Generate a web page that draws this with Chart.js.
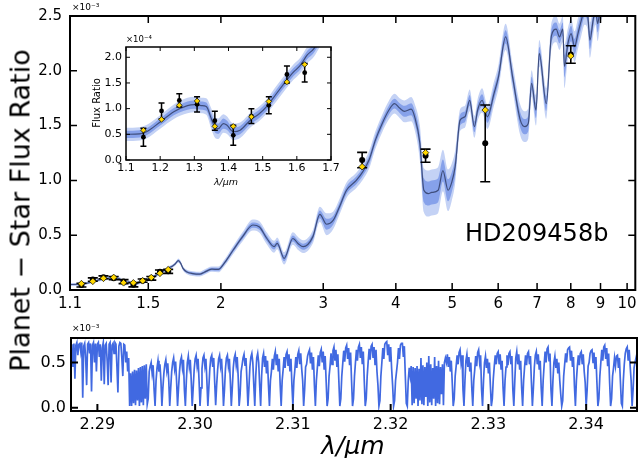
<!DOCTYPE html>
<html><head><meta charset="utf-8">
<script src="https://cdn.jsdelivr.net/npm/chart.js@4.4.1/dist/chart.umd.min.js"></script>
<style>
body{margin:0;background:#fff;width:640px;height:458px;overflow:hidden;position:relative;font-family:"DejaVu Sans",sans-serif;}
canvas{position:absolute;}
.t{position:absolute;white-space:nowrap;color:#000;line-height:1;}
</style></head><body>
<canvas id="main" width="640" height="320" style="left:0;top:0"></canvas>
<canvas id="inset" width="260" height="165" style="left:80px;top:30px"></canvas>
<canvas id="hires" width="640" height="138" style="left:0;top:320px"></canvas>
<div class="t" style="left:72px;top:3px;font-size:9px">×10⁻³</div>
<div class="t" style="left:126px;top:35px;font-size:8.5px">×10⁻⁴</div>
<div class="t" style="left:72px;top:324px;font-size:9px">×10⁻³</div>
<div class="t" style="left:47px;top:98px;width:100px;text-align:center;font-size:10px;transform:rotate(-90deg);transform-origin:50% 50%">Flux Ratio</div>
<div class="t" style="left:196px;top:177px;width:60px;text-align:center;font-size:9.5px;font-style:italic">λ/μm</div>
<div class="t" style="left:465px;top:221px;font-size:24px">HD209458b</div>
<div class="t" style="left:-180px;top:197px;width:400px;text-align:center;font-size:27px;transform:rotate(-90deg);transform-origin:50% 50%">Planet − Star Flux Ratio</div>
<div class="t" style="left:253px;top:433px;width:200px;text-align:center;font-size:25px;font-style:italic">λ/μm</div>
<script>
// ---------------- data ----------------
const modelWave = [1.10,1.14,1.16,1.20,1.24,1.28,1.30,1.32,1.335,1.35,1.36,1.37,1.385,1.395,1.414,1.434,1.463,1.49,1.51,1.54,1.57,1.59,1.61,1.63,1.65,1.67,1.69,1.705,1.72,1.745,1.79,1.84,1.87,1.93,1.98,2.03,2.10,2.18,2.27,2.33,2.40,2.47,2.50,2.57,2.66,2.72,2.77,2.88,2.96,3.04,3.12,3.20,3.29,3.42,3.51,3.60,3.69,3.79,3.89,3.98,4.06,4.14,4.25,4.31,4.40,4.47,4.55,4.61,4.73,4.82,4.92,4.99,5.06,5.16,5.26,5.36,5.46,5.53,5.63,5.75,5.90,6.01,6.18,6.35,6.55,6.67,6.76,6.85,6.97,7.06,7.26,7.41,7.55,7.65,7.75,7.80,7.91,8.01,8.12,8.23,8.34,8.45,8.55,8.63,8.74,8.82,8.90,9.00,9.30,9.70,10.33];
const modelFlux = [0.050,0.051,0.055,0.074,0.094,0.106,0.108,0.106,0.104,0.080,0.064,0.061,0.071,0.068,0.055,0.058,0.077,0.090,0.103,0.129,0.155,0.171,0.184,0.204,0.217,0.240,0.268,0.245,0.200,0.167,0.150,0.145,0.160,0.190,0.188,0.250,0.365,0.487,0.593,0.575,0.470,0.395,0.426,0.289,0.470,0.420,0.395,0.487,0.690,0.600,0.635,0.760,0.910,1.000,1.080,1.190,1.370,1.520,1.640,1.700,1.660,1.630,1.650,1.580,1.340,0.910,0.880,0.890,0.910,1.090,0.910,0.980,1.125,1.550,1.580,1.730,1.490,1.640,1.730,1.580,1.790,1.950,2.310,1.950,1.550,1.490,1.520,1.885,1.640,2.160,1.700,2.320,2.380,2.310,2.380,2.040,2.250,2.340,2.220,2.340,2.460,2.560,2.520,2.280,2.460,2.560,2.430,2.600,2.700,2.800,2.900];
const modelErr1 = [0.007,0.007,0.007,0.007,0.007,0.008,0.008,0.008,0.008,0.010,0.010,0.010,0.010,0.009,0.008,0.008,0.008,0.008,0.008,0.008,0.008,0.008,0.008,0.008,0.008,0.008,
0.010,0.010,0.010,0.010,0.011,0.011,0.012,0.012,0.013,0.015,0.018,0.021,0.024,0.025,0.026,0.026,0.026,0.027,0.027,0.028,0.028,0.030,0.035,0.050,0.040,0.035,0.035,0.035,0.038,0.040,0.040,0.040,0.042,0.045,0.045,0.050,0.055,0.060,0.080,
0.110,0.110,0.110,0.110,0.100,0.100,0.090,0.080,0.050,0.050,0.050,0.050,0.050,0.055,0.055,0.055,0.055,0.060,0.060,0.070,0.070,0.070,0.060,0.070,0.060,0.070,0.060,0.060,0.060,0.060,0.100,0.070,0.070,0.070,0.070,0.070,0.070,0.070,0.080,0.070,0.070,0.080,0.080,0.080,0.080,0.080];
const modelErr2 = [0.013,0.013,0.013,0.013,0.014,0.015,0.015,0.015,0.016,0.020,0.020,0.020,0.018,0.017,0.016,0.015,0.014,0.014,0.014,0.015,0.015,0.015,0.015,0.016,0.016,0.016,
0.020,0.020,0.020,0.020,0.022,0.022,0.024,0.024,0.026,0.030,0.036,0.042,0.050,0.052,0.054,0.054,0.054,0.056,0.056,0.058,0.058,0.060,0.070,0.100,0.080,0.070,0.070,0.070,0.075,0.080,0.080,0.080,0.085,0.090,0.090,0.100,0.110,0.120,0.160,
0.200,0.210,0.210,0.210,0.190,0.190,0.170,0.150,0.100,0.100,0.100,0.100,0.100,0.110,0.110,0.110,0.110,0.120,0.120,0.140,0.140,0.140,0.120,0.140,0.120,0.140,0.120,0.120,0.120,0.120,0.200,0.140,0.140,0.140,0.140,0.140,0.140,0.140,0.160,0.140,0.140,0.160,0.160,0.160,0.160,0.160];
const obsWave = [1.151,1.204,1.256,1.308,1.360,1.414,1.467,1.518,1.571,1.623,3.5,4.5,5.7,8.0];
const obsFlux = [0.0445,0.0955,0.116,0.1083,0.0765,0.048,0.0855,0.1065,0.1665,0.170,1.186,1.2255,1.338,2.1485];
const obsErr  = [0.0175,0.0155,0.013,0.0148,0.0185,0.0195,0.0145,0.0165,0.0165,0.018,0.070,0.060,0.350,0.080];
const binnedFlux = [0.058,0.079,0.1065,0.115,0.0655,0.0655,0.084,0.114,0.152,0.186,1.125,1.253,1.642,2.135];

const mainXTicks = [1.1,1.5,2,3,4,5,6,7,8,9,10];
const mainXTickLabels = ['1.1','1.5','2','3','4','5','6','7','8','9','10'];
const mainYTicks = [0,0.5,1,1.5,2,2.5];
const mainYTickLabels = ['0.0','0.5','1.0','1.5','2.0','2.5'];
const insetXTicks = [1.1,1.2,1.3,1.4,1.5,1.6,1.7];
const insetXTickLabels = ['1.1','1.2','1.3','1.4','1.5','1.6','1.7'];
const insetYTicks = [0,0.5,1,1.5,2];
const insetYTickLabels = ['0.0','0.5','1.0','1.5','2.0'];
const hiresXTicks = [2.29,2.30,2.31,2.32,2.33,2.34];
const hiresXTickLabels = ['2.29','2.30','2.31','2.32','2.33','2.34'];
const hiresYTicks = [0,0.5];
const hiresYTickLabels = ['0.0','0.5'];

const hiresStart = 2.2873, hiresStep = 0.0001;
const hiresFlux = [
0.70,0.66,0.45,0.71,0.32,0.69,0.72,0.58,0.70,0.71,
0.62,0.72,0.11,0.68,0.71,0.55,0.25,0.70,0.72,0.60,
0.71,0.18,0.69,0.72,0.50,0.71,0.40,0.70,0.72,0.56,
0.70,0.30,0.66,0.72,0.26,0.69,0.71,0.52,0.25,0.70,
0.72,0.28,0.69,0.71,0.60,0.72,0.70,0.45,0.17,0.68,
0.72,0.71,0.55,0.35,0.70,0.69,0.50,0.62,0.40,
0.55,0.02,0.38,
0.02,0.40,0.05,0.42,0.03,0.41,0.08,0.44,0.02,0.45,0.06,0.46,0.03,0.47,0.10,0.48,0.04,
0.10,0.40,0.46,
0.50,0.38,0.47,0.20,0.02,0.30,0.44,
0.52,0.40,0.48,0.30,0.02,0.22,0.38,0.48,
0.53,0.41,0.49,0.30,0.02,0.22,0.40,0.50,
0.55,0.43,0.51,0.30,0.02,0.22,0.40,0.52,
0.56,0.44,0.53,0.20,0.02,0.30,0.50,
0.57,0.45,0.53,0.30,0.02,0.22,0.42,0.54,
0.58,0.46,0.54,0.30,0.02,0.22,0.43,0.55,
0.58,0.46,0.54,0.30,0.02,0.22,0.43,0.55,
0.58,0.45,0.55,0.28,0.03,0.25,0.42,0.54,
0.58,0.46,0.54,0.32,0.02,0.20,0.43,0.55,
0.58,0.46,0.54,0.30,0.02,0.22,0.44,0.55,
0.59,0.47,0.56,0.35,0.02,0.15,0.40,0.47,0.55,
0.59,0.47,0.55,0.30,0.02,0.22,0.45,0.56,
0.60,0.50,0.25,0.02,0.35,0.55,
0.60,0.50,0.25,0.02,0.35,0.55,
0.60,0.45,0.57,0.38,0.52,0.25,0.02,0.30,0.40,0.54,0.42,0.57,
0.62,0.47,0.59,0.40,0.54,0.25,0.02,0.30,0.42,0.56,0.44,0.59,
0.62,0.47,0.59,0.40,0.54,0.25,0.02,0.30,0.42,0.56,0.44,0.59,
0.63,0.48,0.60,0.43,0.30,0.02,0.20,0.45,0.48,0.57,0.61,
0.64,0.49,0.61,0.42,0.56,0.25,0.02,0.30,0.44,0.58,0.46,0.61,
0.645,0.50,0.62,0.42,0.57,0.30,0.02,0.10,0.35,0.46,0.60,0.48,0.63,
0.67,0.52,0.64,0.45,0.59,0.30,0.02,0.10,0.35,0.49,0.63,0.51,0.66,
0.69,0.54,0.66,0.47,0.61,0.30,0.02,0.10,0.35,0.50,0.64,0.52,0.67,
0.70,0.55,0.67,0.48,0.62,0.30,0.02,0.10,0.35,0.51,0.65,0.53,0.68,
0.70,0.55,0.67,0.48,0.64,0.40,0.25,0.02,0.08,0.35,0.50,0.66,0.54,0.70,0.72,
0.73,0.58,0.70,0.51,0.67,0.43,0.25,0.02,0.08,0.30,0.40,0.50,0.66,0.54,0.69,0.71,
0.71,0.56,0.68,0.35,0.05,0.02,0.30,0.44,0.35,0.46,
0.03,0.45,0.05,0.44,0.10,0.46,0.02,0.43,0.08,0.55,0.04,0.47,0.03,0.45,0.12,0.50,0.02,0.57,0.06,0.48,
0.03,0.44,0.10,0.56,0.02,0.46,0.05,0.52,0.04,0.45,0.15,0.48,0.03,0.50,0.55,
0.50,
0.59,0.45,0.56,0.40,0.52,0.28,0.02,0.10,0.35,0.46,0.58,0.48,0.61,
0.64,0.50,0.58,0.20,0.02,0.30,0.52,
0.59,0.45,0.56,0.40,0.50,0.22,0.02,0.30,0.42,0.57,0.46,0.61,
0.64,0.50,0.58,0.20,0.02,0.30,0.50,
0.57,0.44,0.54,0.38,0.50,0.25,0.02,0.10,0.32,0.46,0.58,0.48,0.60,
0.62,0.48,0.59,0.42,0.52,0.22,0.02,0.30,0.45,0.58,0.47,0.60,
0.62,0.48,0.57,0.20,0.02,0.30,0.55,
0.62,0.48,0.59,0.42,0.52,0.22,0.02,0.30,0.45,0.58,0.47,0.60,
0.62,0.48,0.57,0.28,0.02,0.22,0.45,0.58,
0.62,0.48,0.59,0.42,0.52,0.22,0.02,0.30,0.47,0.62,0.50,0.65,
0.67,0.52,0.60,0.20,0.02,0.30,0.50,
0.57,0.44,0.54,0.38,0.50,0.30,0.15,0.02,0.08,0.35,0.48,0.60,0.50,0.64,0.66,
0.67,0.52,0.63,0.45,0.56,0.24,0.02,0.30,0.46,0.58,0.47,0.60,
0.62,0.48,0.59,0.40,0.28,0.02,0.20,0.46,0.50,0.60,0.63,
0.64,0.50,0.61,0.43,0.56,0.28,0.02,0.10,0.35,0.50,0.64,0.52,0.67,
0.69,0.54,0.66,0.46,0.60,0.28,0.02,0.10,0.35,0.44,0.55,0.46,0.57,
0.58,0.44,0.55,0.30,0.05,0.02,0.30,0.48,0.60,0.65,
0.67,0.52,0.64,0.46,0.30,0.02,0.20,0.44,0.50,0.55,0.48
];

// ---------------- styling ----------------
Chart.defaults.font.family = '"DejaVu Sans", sans-serif';
Chart.defaults.color = '#000';
const LIGHT = '#c4d2f5', DARK = '#86a1ea', LINE = '#3f4e7c', GOLD = '#ffd700';

function frameTicks(o){
  return { id:'frameTicks', afterDatasetsDraw(chart){
    const {ctx, chartArea:a, scales:{x,y}} = chart;
    ctx.save(); ctx.strokeStyle='#000'; ctx.lineWidth=o.tw; ctx.beginPath();
    x.ticks.forEach(t=>{ const p=x.getPixelForValue(t.value);
      if(o.bottom){ctx.moveTo(p,a.bottom);ctx.lineTo(p,a.bottom-o.len);}
      if(o.top){ctx.moveTo(p,a.top);ctx.lineTo(p,a.top+o.len);} });
    y.ticks.forEach(t=>{ const p=y.getPixelForValue(t.value);
      if(o.left){ctx.moveTo(a.left,p);ctx.lineTo(a.left+o.len,p);}
      if(o.right){ctx.moveTo(a.right,p);ctx.lineTo(a.right-o.len,p);} });
    ctx.stroke();
    ctx.lineWidth=o.fw; ctx.strokeRect(a.left,a.top,a.right-a.left,a.bottom-a.top);
    ctx.restore(); } };
}
function errorBars(scale, dsIndex, cap, lw){
  return { id:'errorBars', beforeDatasetDraw(chart, args){
    if(args.index!==dsIndex) return;
    const {ctx, chartArea:a, scales:{x,y}} = chart;
    ctx.save(); ctx.beginPath(); ctx.rect(a.left,a.top,a.right-a.left,a.bottom-a.top); ctx.clip();
    ctx.strokeStyle='#000'; ctx.lineWidth=lw; ctx.beginPath();
    obsWave.forEach((w,i)=>{ if(w<x.min||w>x.max) return;
      const px=x.getPixelForValue(w);
      const t=y.getPixelForValue((obsFlux[i]+obsErr[i])*scale), b=y.getPixelForValue((obsFlux[i]-obsErr[i])*scale);
      ctx.moveTo(px,t);ctx.lineTo(px,b);
      ctx.moveTo(px-cap,t);ctx.lineTo(px+cap,t);
      ctx.moveTo(px-cap,b);ctx.lineTo(px+cap,b); });
    ctx.stroke(); ctx.restore(); } };
}
function whiteBg(){ return {id:'whiteBg', beforeDraw(c){const g=c.ctx; g.save(); g.fillStyle='#fff'; g.fillRect(0,0,c.width,c.height); g.restore();}}; }

function modelSets(scale, dotR, diaR){
  const pts = f => modelWave.map((w,i)=>({x:w, y:f(i)*scale}));
  const band = {pointRadius:0, borderWidth:0, borderColor:'rgba(0,0,0,0)', cubicInterpolationMode:'monotone'};
  return [
    {data: obsWave.map((w,i)=>({x:w,y:binnedFlux[i]*scale})), showLine:false, pointStyle:'rectRot', pointRadius:diaR, pointBackgroundColor:GOLD, pointBorderColor:'#000', pointBorderWidth:0.7, clip:0},
    {data: obsWave.map((w,i)=>({x:w,y:obsFlux[i]*scale})), showLine:false, pointStyle:'circle', pointRadius:dotR, pointBackgroundColor:'#000', pointBorderColor:'#000', pointBorderWidth:0, clip:0},
    {data: pts(i=>modelFlux[i]), borderColor:LINE, borderWidth:1.2, pointRadius:0, fill:false, cubicInterpolationMode:'monotone'},
    Object.assign({data: pts(i=>modelFlux[i]+modelErr1[i]), fill:'+1', backgroundColor:DARK}, band),
    Object.assign({data: pts(i=>modelFlux[i]-modelErr1[i]), fill:false}, band),
    Object.assign({data: pts(i=>modelFlux[i]+modelErr2[i]), fill:'+1', backgroundColor:LIGHT}, band),
    Object.assign({data: pts(i=>modelFlux[i]-modelErr2[i]), fill:false}, band)
  ];
}
function axis(type, min, max, ticks, labels, size, pad, fit){
  return { type, min, max, grid:{display:false, drawTicks:false}, border:{display:false},
    afterBuildTicks: s => { s.ticks = ticks.map(v=>({value:v})); },
    ticks:{ autoSkip:false, maxRotation:0, minRotation:0, padding:pad, font:{size}, color:'#000',
      callback:(v,i)=>labels[i] },
    afterFit: fit };
}
const base = {responsive:false, animation:false, events:[], plugins:{legend:{display:false}, tooltip:{enabled:false}}};

// main chart
new Chart(document.getElementById('main'), {
  type:'line',
  data:{datasets: modelSets(1, 3, 3.3)},
  options: Object.assign({}, base, {
    layout:{padding:{left:0,right:3,top:16,bottom:0}},
    scales:{
      x: axis('logarithmic', 1.1, 10.33, mainXTicks, mainXTickLabels, 15, 5, s=>{s.height=30;s.paddingLeft=0;s.paddingRight=0;}),
      y: axis('linear', 0, 2.5, mainYTicks, mainYTickLabels, 15, 8, s=>{s.width=70;s.paddingTop=0;s.paddingBottom=0;})
    }}),
  plugins:[errorBars(1, 1, 5, 1.6), frameTicks({len:7, tw:1.5, fw:2, bottom:1, top:1, left:1, right:1})]
});

// inset
new Chart(document.getElementById('inset'), {
  type:'line',
  data:{datasets: modelSets(10, 2.4, 2.8)},
  options: Object.assign({}, base, {
    layout:{padding:{left:0,right:9,top:17,bottom:0}},
    scales:{
      x: axis('linear', 1.1, 1.7, insetXTicks, insetXTickLabels, 11, 2, s=>{s.height=35;s.paddingLeft=0;s.paddingRight=0;}),
      y: axis('linear', 0, 2.2, insetYTicks, insetYTickLabels, 11, 4, s=>{s.width=46;s.paddingTop=0;s.paddingBottom=0;})
    }}),
  plugins:[whiteBg(), errorBars(10, 1, 3, 1.5), frameTicks({len:4, tw:1, fw:1.5, bottom:1, top:1, left:1, right:1})]
});

// high-resolution panel
new Chart(document.getElementById('hires'), {
  type:'line',
  data:{datasets:[{data: hiresFlux.map((v,i)=>({x:hiresStart+i*hiresStep, y:v})), borderColor:'#4169e1', borderWidth:1.7, pointRadius:0, fill:false}]},
  options: Object.assign({}, base, {
    layout:{padding:{left:0,right:3,top:18,bottom:0}},
    scales:{
      x: axis('linear', 2.2873, 2.3452, hiresXTicks, hiresXTickLabels, 16, 4, s=>{s.height=47;s.paddingLeft=0;s.paddingRight=0;}),
      y: axis('linear', -0.035, 0.77, hiresYTicks, hiresYTickLabels, 16, 5, s=>{s.width=71;s.paddingTop=0;s.paddingBottom=0;})
    }}),
  plugins:[frameTicks({len:7, tw:2, fw:2, bottom:1, top:0, left:1, right:1})]
});
</script>
</body></html>
